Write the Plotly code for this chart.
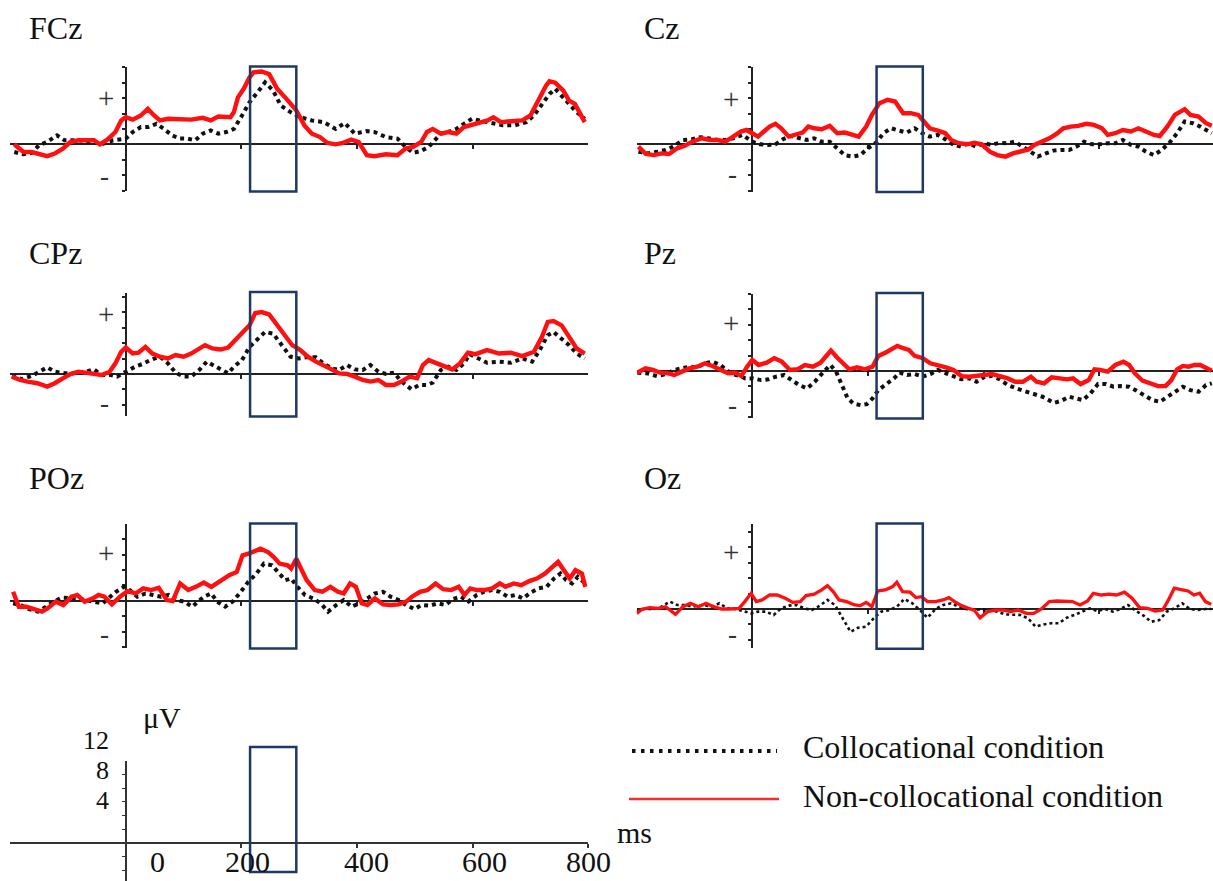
import plotly.graph_objects as go

# ------------------------------------------------------------------
# DATA  (time in ms, amplitude in axis-tick units)
# ------------------------------------------------------------------
panel_names = ["FCz", "Cz", "CPz", "Pz", "POz", "Oz"]
legend_labels = ["Collocational condition", "Non-collocational condition"]
scale_tick_labels = ["0", "200", "400", "600", "800"]
scale_value_labels = ["12", "8", "4"]

# FCz
fcz_coll_t = [-193, -177, -163, -150, -136, -119, -106, -82, -55, -42, -22, -8, 0, 12, 26, 39, 53, 66, 80, 93, 106, 120, 133, 147, 160, 174, 187, 201, 214, 228, 241, 255, 268, 285, 302, 322, 342, 363, 379, 396, 417, 430, 450, 470, 484, 497, 511, 524, 534, 545, 558, 572, 585, 599, 612, 632, 652, 673, 693, 706, 720, 733, 743, 754, 767, 780, 794]
fcz_coll_v = [-0.5, -0.65, -0.56, -0.06, 0.15, 0.58, 0.26, 0.26, 0.15, 0.0, 0.26, 0.3, 0.37, 0.8, 1.12, 1.12, 1.33, 1.0, 0.58, 0.37, 0.37, 0.26, 0.69, 0.9, 0.69, 0.8, 1.0, 1.87, 2.73, 3.38, 4.02, 3.48, 2.52, 2.09, 1.76, 1.55, 1.44, 1.0, 1.38, 0.69, 0.86, 0.8, 0.47, 0.37, -0.17, -0.56, -0.43, -0.17, 0.26, 0.69, 0.8, 1.0, 1.33, 1.66, 1.55, 1.38, 1.23, 1.23, 1.44, 1.87, 2.62, 3.27, 3.6, 3.16, 2.62, 2.09, 1.66]
fcz_non_t = [-193, -177, -163, -150, -136, -123, -109, -96, -82, -69, -55, -45, -32, -18, -8, 0, 12, 26, 38, 49, 59, 73, 93, 113, 133, 147, 160, 181, 187, 194, 204, 214, 221, 235, 248, 262, 278, 295, 309, 322, 336, 349, 363, 376, 390, 403, 417, 430, 450, 470, 484, 497, 511, 521, 531, 545, 558, 572, 585, 599, 612, 626, 636, 649, 666, 686, 700, 713, 727, 733, 743, 757, 767, 777, 787, 794]
fcz_non_v = [0.0, -0.5, -0.5, -0.65, -0.77, -0.6, -0.28, 0.15, 0.26, 0.26, 0.26, 0.0, 0.3, 0.8, 1.55, 1.76, 1.6, 1.87, 2.3, 1.87, 1.55, 1.66, 1.66, 1.6, 1.72, 1.55, 1.8, 1.76, 2.09, 3.05, 3.6, 4.34, 4.67, 4.73, 4.56, 3.6, 2.95, 2.2, 1.23, 0.69, 0.47, 0.09, 0.0, 0.09, 0.3, 0.15, -0.71, -0.77, -0.65, -0.71, -0.28, -0.17, 0.15, 0.8, 1.0, 0.69, 0.8, 0.69, 1.12, 1.29, 1.44, 1.55, 1.76, 1.44, 1.5, 1.55, 1.87, 2.84, 3.8, 4.1, 4.0, 3.48, 2.84, 2.62, 1.98, 1.44]

# Cz
cz_coll_t = [-197, -180, -164, -150, -137, -120, -104, -90, -77, -60, -47, -33, -17, 0, 13, 27, 40, 53, 67, 80, 94, 107, 120, 134, 147, 160, 174, 187, 200, 214, 227, 240, 254, 267, 281, 294, 307, 321, 334, 347, 361, 374, 387, 401, 414, 428, 441, 454, 468, 481, 494, 508, 521, 534, 548, 561, 574, 588, 601, 615, 628, 641, 655, 668, 681, 695, 708, 721, 735, 748, 762, 775, 795]
cz_coll_v = [-0.48, -0.59, -0.48, -0.37, -0.15, 0.28, 0.33, 0.46, 0.39, 0.28, 0.28, 0.39, 0.61, 0.17, 0.0, -0.04, 0.0, 0.33, 0.54, 0.39, 0.28, 0.39, 0.17, 0.17, -0.26, -0.7, -0.8, -0.7, -0.26, 0.1, 0.72, 1.04, 0.89, 0.76, 1.04, 0.72, 0.5, 0.61, 0.33, 0.0, -0.15, 0.07, -0.15, 0.07, -0.04, 0.1, 0.07, 0.17, -0.15, -0.48, -0.8, -0.59, -0.41, -0.37, -0.37, -0.15, 0.17, 0.0, 0.0, 0.07, 0.07, 0.28, -0.04, -0.15, -0.48, -0.7, -0.37, 0.07, 0.72, 1.48, 1.37, 1.15, 0.72]
cz_non_t = [-197, -184, -170, -157, -144, -130, -117, -104, -87, -73, -60, -47, -33, -20, -10, 0, 10, 20, 30, 40, 50, 63, 73, 87, 97, 107, 120, 134, 147, 160, 174, 184, 197, 207, 220, 234, 247, 261, 274, 287, 297, 307, 321, 334, 344, 357, 371, 384, 397, 411, 424, 438, 451, 464, 478, 488, 501, 514, 528, 538, 551, 564, 578, 591, 605, 615, 628, 641, 655, 668, 681, 695, 705, 718, 731, 748, 758, 772, 785, 795]
cz_non_v = [-0.15, -0.63, -0.7, -0.59, -0.63, -0.26, -0.1, 0.17, 0.39, 0.28, 0.28, 0.17, 0.5, 0.83, 0.93, 0.72, 0.5, 0.83, 1.15, 1.33, 1.04, 0.5, 0.61, 0.76, 1.15, 1.04, 0.98, 1.2, 0.72, 0.76, 0.61, 0.5, 1.15, 1.91, 2.67, 2.89, 2.78, 2.02, 2.02, 1.91, 1.48, 1.04, 0.89, 0.72, 0.28, 0.07, 0.0, 0.1, 0.0, -0.48, -0.7, -0.8, -0.59, -0.48, -0.33, -0.04, 0.17, 0.39, 0.72, 1.04, 1.15, 1.2, 1.33, 1.26, 1.04, 0.61, 0.72, 0.93, 0.83, 1.04, 0.83, 0.61, 0.54, 1.15, 1.91, 2.28, 1.91, 1.8, 1.37, 1.2]

# CPz
cpz_coll_t = [-197, -180, -163, -150, -136, -123, -109, -96, -82, -69, -55, -42, -28, -15, 0, 16, 29, 42, 59, 73, 86, 100, 113, 127, 140, 154, 167, 177, 187, 201, 214, 228, 241, 255, 268, 285, 299, 312, 329, 342, 356, 369, 383, 396, 410, 423, 437, 450, 464, 477, 494, 508, 521, 531, 545, 558, 572, 585, 595, 612, 625, 646, 666, 686, 703, 716, 730, 740, 754, 767, 780, 794]
cpz_coll_v = [-0.13, -0.34, -0.13, 0.15, 0.43, 0.15, 0.09, 0.0, 0.09, 0.15, 0.3, -0.06, -0.06, -0.17, 0.15, 0.47, 0.65, 0.9, 1.12, 0.69, 0.09, -0.17, -0.17, 0.26, 0.8, 0.52, 0.26, 0.04, 0.47, 0.9, 1.76, 2.3, 2.73, 2.62, 1.98, 1.12, 1.01, 1.08, 1.08, 0.69, 0.37, 0.26, 0.58, 0.3, 0.26, 0.58, 0.15, 0.0, 0.09, -0.49, -0.99, -0.71, -0.71, -0.56, 0.26, 0.47, 0.26, 0.69, 1.29, 1.01, 0.73, 0.8, 0.73, 1.01, 0.8, 1.55, 2.52, 2.73, 2.3, 1.87, 1.33, 1.01]
cpz_non_t = [-197, -183, -170, -153, -136, -123, -109, -96, -82, -69, -55, -42, -28, -18, -8, 0, 12, 22, 34, 46, 59, 73, 86, 100, 113, 127, 137, 150, 164, 177, 187, 201, 214, 224, 235, 248, 262, 275, 288, 302, 315, 329, 342, 356, 369, 383, 396, 410, 423, 437, 450, 464, 477, 491, 504, 514, 524, 538, 551, 565, 578, 592, 605, 625, 646, 666, 686, 706, 720, 730, 740, 754, 767, 780, 794]
cpz_non_v = [-0.17, -0.39, -0.49, -0.6, -0.82, -0.6, -0.28, 0.0, 0.15, 0.09, 0.0, -0.06, 0.15, 0.69, 1.44, 1.72, 1.33, 1.38, 1.76, 1.33, 1.12, 1.01, 1.23, 1.12, 1.33, 1.66, 1.87, 1.66, 1.59, 1.72, 2.09, 2.62, 3.16, 3.96, 4.02, 3.87, 3.16, 2.52, 1.87, 1.55, 1.12, 0.8, 0.58, 0.3, 0.04, 0.0, -0.17, -0.39, -0.49, -0.39, -0.71, -0.71, -0.49, -0.17, -0.28, 0.58, 0.9, 0.69, 0.47, 0.3, 0.69, 1.38, 1.29, 1.55, 1.33, 1.38, 1.16, 1.44, 2.41, 3.38, 3.44, 3.16, 2.41, 1.66, 1.33]

# Pz
pz_coll_t = [-199, -182, -165, -149, -135, -122, -109, -95, -82, -69, -55, -45, -35, -22, -12, 1, 15, 28, 41, 55, 68, 81, 95, 108, 121, 135, 145, 155, 165, 175, 188, 198, 208, 218, 231, 245, 255, 268, 281, 295, 308, 321, 335, 348, 362, 375, 388, 402, 415, 428, 442, 462, 482, 502, 522, 535, 548, 562, 572, 585, 598, 612, 625, 638, 652, 665, 678, 692, 705, 718, 732, 745, 758, 772, 785, 795]
pz_coll_v = [-0.11, -0.15, -0.33, -0.2, 0.07, 0.17, 0.28, 0.24, 0.5, 0.61, 0.39, 0.07, -0.2, -0.33, -0.48, -0.48, -0.59, -0.54, -0.37, -0.26, -0.59, -0.91, -1.13, -0.7, -0.15, 0.39, -0.04, -0.91, -1.78, -2.11, -2.22, -2.15, -1.78, -1.24, -0.91, -0.48, -0.11, -0.26, -0.2, -0.37, -0.2, 0.07, -0.15, -0.37, -0.54, -0.48, -0.7, -0.37, -0.33, -0.54, -0.91, -1.2, -1.46, -1.67, -2.07, -1.93, -1.67, -1.78, -1.89, -1.46, -0.85, -0.85, -1.02, -0.98, -1.02, -1.28, -1.57, -1.89, -2.0, -1.67, -1.35, -1.02, -1.24, -1.35, -0.91, -0.8]
pz_non_t = [-199, -185, -172, -159, -145, -135, -122, -109, -95, -82, -69, -55, -42, -29, -19, -9, 0, 11, 25, 38, 51, 65, 78, 91, 105, 118, 128, 136, 148, 158, 168, 181, 195, 208, 218, 231, 245, 251, 261, 271, 281, 295, 308, 321, 335, 348, 362, 375, 388, 402, 415, 428, 442, 455, 468, 482, 492, 505, 518, 532, 545, 555, 568, 582, 592, 602, 615, 628, 642, 652, 662, 675, 688, 702, 715, 725, 735, 745, 755, 765, 775, 785, 795]
pz_non_v = [-0.11, 0.17, 0.07, -0.11, -0.15, -0.26, -0.04, 0.17, 0.28, 0.5, 0.33, 0.07, -0.15, -0.11, -0.33, 0.28, 0.72, 0.39, 0.54, 0.83, 0.61, 0.07, 0.11, 0.39, 0.28, 0.54, 1.04, 1.33, 0.83, 0.5, 0.11, 0.24, 0.11, 0.28, 0.98, 1.2, 1.48, 1.63, 1.48, 1.37, 0.98, 0.83, 0.5, 0.39, 0.24, 0.07, -0.33, -0.37, -0.33, -0.26, -0.2, -0.33, -0.48, -0.7, -0.7, -0.37, -0.7, -0.8, -0.41, -0.48, -0.54, -0.48, -0.85, -0.59, 0.11, 0.07, -0.04, 0.39, 0.61, 0.39, -0.15, -0.63, -0.8, -0.98, -0.98, -0.59, 0.11, 0.33, 0.28, 0.39, 0.39, 0.17, 0.02]

# POz
poz_coll_t = [-195, -182, -168, -152, -138, -125, -111, -98, -84, -71, -54, -40, -27, -17, -3, 7, 20, 34, 47, 61, 74, 88, 101, 115, 125, 135, 148, 158, 172, 185, 199, 212, 226, 239, 253, 266, 276, 286, 297, 310, 324, 337, 350, 364, 377, 391, 404, 418, 431, 445, 458, 472, 485, 499, 512, 526, 539, 553, 566, 580, 593, 607, 620, 634, 647, 661, 674, 687, 701, 714, 728, 741, 752, 762, 772, 782, 795]
poz_coll_v = [-0.17, -0.28, -0.54, -0.71, -0.39, -0.06, 0.19, 0.15, 0.15, 0.04, -0.06, -0.17, 0.26, 0.58, 0.9, 0.69, 0.26, 0.47, 0.37, 0.26, 0.37, 0.04, -0.06, -0.39, -0.06, 0.26, 0.47, -0.06, -0.39, -0.06, 0.58, 1.23, 1.76, 2.41, 2.3, 1.76, 1.33, 1.44, 0.9, 0.37, 0.15, -0.17, -0.71, -0.28, 0.04, -0.39, -0.17, 0.15, 0.47, 0.58, 0.26, 0.04, -0.28, -0.54, -0.28, -0.32, -0.17, -0.28, 0.11, 0.26, -0.06, 0.37, 0.58, 0.69, 0.58, 0.26, 0.37, 0.15, 0.54, 0.8, 0.9, 1.44, 1.76, 1.33, 1.12, 1.55, 1.12]
poz_non_t = [-195, -185, -172, -158, -145, -135, -121, -108, -94, -84, -71, -57, -47, -37, -24, -10, 3, 17, 30, 44, 57, 71, 81, 94, 108, 121, 135, 148, 165, 179, 192, 202, 212, 222, 233, 246, 256, 266, 280, 286, 295, 303, 313, 327, 340, 354, 367, 377, 388, 398, 408, 418, 431, 445, 458, 472, 485, 495, 509, 522, 536, 549, 563, 576, 586, 596, 607, 620, 634, 647, 657, 671, 684, 698, 711, 725, 738, 748, 758, 768, 778, 789, 795]
poz_non_v = [0.58, -0.39, -0.39, -0.54, -0.71, -0.49, -0.06, -0.28, 0.26, 0.37, -0.06, 0.15, 0.37, 0.26, -0.24, 0.26, 0.62, 0.47, 0.8, 0.69, 0.84, 0.04, -0.02, 1.12, 0.69, 0.9, 1.18, 0.9, 1.33, 1.66, 1.87, 2.95, 3.05, 3.2, 3.38, 3.16, 2.84, 2.41, 2.3, 2.09, 2.73, 2.09, 1.33, 0.69, 0.58, 0.9, 0.58, 0.47, 1.12, 0.9, -0.17, -0.28, 0.15, -0.24, -0.28, -0.24, -0.06, 0.26, 0.58, 0.69, 1.12, 0.75, 0.69, 0.9, 0.37, 0.8, 0.69, 0.69, 0.8, 1.12, 0.9, 1.12, 1.01, 1.27, 1.44, 1.76, 2.19, 2.52, 1.98, 1.44, 1.98, 1.76, 0.9]

# Oz
oz_coll_t = [-200, -187, -170, -157, -143, -130, -117, -103, -87, -70, -57, -43, -30, -13, -2, 10, 23, 37, 50, 63, 77, 90, 103, 117, 130, 143, 157, 170, 183, 197, 210, 223, 237, 250, 263, 277, 290, 303, 317, 330, 344, 357, 370, 384, 397, 410, 424, 437, 450, 464, 477, 490, 504, 517, 530, 544, 557, 570, 584, 597, 610, 624, 637, 650, 664, 677, 690, 704, 717, 730, 744, 757, 770, 784, 794]
oz_coll_v = [-0.17, 0.0, 0.0, 0.15, 0.48, 0.26, 0.26, 0.15, 0.26, 0.15, 0.37, 0.04, 0.0, -0.17, -0.28, -0.17, -0.17, -0.39, 0.04, 0.22, 0.26, 0.04, -0.07, 0.22, 0.59, 0.26, -0.61, -1.48, -1.22, -1.15, -0.61, -0.17, -0.07, 0.15, 0.65, 0.37, -0.07, -0.57, 0.0, 0.26, 0.37, 0.15, 0.0, -0.07, 0.0, -0.07, -0.17, -0.35, -0.39, -0.39, -0.61, -1.15, -1.0, -0.93, -0.93, -0.57, -0.39, -0.17, 0.04, -0.13, 0.0, -0.17, 0.0, 0.26, -0.13, -0.43, -0.83, -0.72, -0.17, 0.04, 0.37, 0.0, -0.07, 0.0, 0.0]
oz_non_t = [-200, -190, -177, -163, -150, -133, -120, -107, -93, -80, -67, -53, -40, -23, -13, -2, 7, 17, 30, 43, 57, 70, 83, 93, 107, 120, 130, 140, 150, 163, 177, 187, 197, 207, 217, 230, 243, 250, 260, 273, 283, 293, 303, 317, 330, 340, 350, 360, 374, 384, 394, 407, 420, 434, 447, 460, 474, 487, 500, 514, 527, 540, 554, 567, 580, 590, 604, 617, 630, 644, 657, 670, 684, 697, 710, 720, 730, 744, 754, 764, 774, 784, 794]
oz_non_v = [-0.28, 0.0, 0.09, 0.04, 0.15, -0.35, 0.15, 0.37, 0.15, 0.37, 0.15, 0.0, 0.0, 0.04, 0.48, 1.02, 0.48, 0.59, 0.91, 0.91, 0.7, 0.43, 0.48, 0.87, 0.96, 1.24, 1.52, 1.13, 0.59, 0.48, 0.26, 0.22, 0.43, 0.15, 1.17, 1.24, 1.46, 1.74, 1.13, 1.09, 0.74, 0.8, 0.48, 0.48, 0.59, 0.74, 0.48, 0.26, 0.04, -0.07, -0.57, -0.17, -0.07, -0.07, -0.17, -0.07, -0.28, -0.28, 0.0, 0.48, 0.52, 0.48, 0.48, 0.26, 0.52, 1.02, 0.91, 0.96, 0.91, 1.09, 0.7, 0.09, 0.04, -0.13, -0.07, 0.59, 1.35, 1.24, 1.17, 0.91, 1.02, 0.48, 0.3]

window_ms = [215, 295]   # highlighted analysis window

coll_series = [(fcz_coll_t, fcz_coll_v), (cz_coll_t, cz_coll_v), (cpz_coll_t, cpz_coll_v),
               (pz_coll_t, pz_coll_v), (poz_coll_t, poz_coll_v), (oz_coll_t, oz_coll_v)]
non_series = [(fcz_non_t, fcz_non_v), (cz_non_t, cz_non_v), (cpz_non_t, cpz_non_v),
              (pz_non_t, pz_non_v), (poz_non_t, poz_non_v), (oz_non_t, oz_non_v)]

# ------------------------------------------------------------------
# LAYOUT GEOMETRY (pixels in a 1213 x 881 page)
# ------------------------------------------------------------------
W, H = 1213, 881
PX_PER_MS = 0.578
PX_PER_UNIT = 15.4
col_zero_x = [125.8, 752.3]
# per panel: column, axis top px, axis bottom px, zero-line px, "+" px, "-" px, title y px
panel_geom = [
    (0, 67.0, 191.0, 144.3, 97.5, 176.0, 28),
    (1, 67.0, 191.5, 144.3, 99.0, 174.0, 28),
    (0, 292.5, 416.0, 374.0, 314.0, 403.0, 253),
    (1, 293.5, 418.0, 371.0, 323.0, 405.0, 253),
    (0, 524.0, 648.0, 600.7, 552.5, 634.0, 478),
    (1, 524.0, 648.3, 609.0, 552.3, 634.3, 478),
]
title_x = [27, 642]
plus_x = [106, 731]
minus_x = [104, 732]

FONT = "Liberation Serif, Times New Roman, serif"
RED = "#ff1010"
BLACK = "#111111"
NAVY = "#1f3864"


def fx(px):
    return px / W


def fy(py):
    return 1 - py / H


fig = go.Figure()
layout = dict(width=W, height=H, margin=dict(l=0, r=0, t=0, b=0),
              paper_bgcolor="white", plot_bgcolor="white", showlegend=False)
shapes, annotations = [], []


def col_x(col):
    z = col_zero_x[col]
    left = z - 200 * PX_PER_MS
    right = min(z + 800 * PX_PER_MS, W)
    return left, right, (right - z) / PX_PER_MS


for i, name in enumerate(panel_names):
    col, top, bot, zero, plus_py, minus_py, title_py = panel_geom[i]
    k = "" if i == 0 else str(i + 1)
    left, right, rend = col_x(col)
    ymax = (zero - top) / PX_PER_UNIT
    ymin = -(bot - zero) / PX_PER_UNIT
    thin = (name == "Oz")

    ct, cv = coll_series[i]
    nt, nv = non_series[i]
    fig.add_trace(go.Scatter(x=ct, y=cv, mode="lines", xaxis="x" + k, yaxis="y" + k,
                             line=dict(color=BLACK, width=2.6 if thin else 4.0, dash="dot"),
                             name=legend_labels[0], hoverinfo="skip"))
    fig.add_trace(go.Scatter(x=nt, y=nv, mode="lines", xaxis="x" + k, yaxis="y" + k,
                             line=dict(color=RED, width=3.3 if thin else 4.4),
                             name=legend_labels[1], hoverinfo="skip"))

    layout["xaxis" + k] = dict(domain=[fx(left), fx(right)], range=[-200, rend],
                               anchor="free", position=fy(zero), showline=True,
                               linecolor="#222", linewidth=1.6, ticks="outside",
                               tickvals=[200, 400, 600], ticklen=4, tickwidth=1.6,
                               tickcolor="#222", showticklabels=False, showgrid=False,
                               zeroline=False, layer="below traces", fixedrange=True)
    layout["yaxis" + k] = dict(domain=[fy(bot), fy(top)], range=[ymin, ymax],
                               anchor="free", position=fx(col_zero_x[col]), showline=True,
                               linecolor="#222", linewidth=2.4, ticks="outside",
                               tick0=0, dtick=1, ticklen=3, tickwidth=1.5, tickcolor="#222",
                               showticklabels=False, showgrid=False, zeroline=False,
                               layer="below traces", fixedrange=True)

    shapes.append(dict(type="rect", xref="x" + k, yref="paper",
                       x0=window_ms[0], x1=window_ms[1], y0=fy(bot + 0.5), y1=fy(top - 0.5),
                       line=dict(color=NAVY, width=2.5), fillcolor="rgba(0,0,0,0)", layer="above"))

    annotations.append(dict(text=name, x=fx(title_x[col]), y=fy(title_py), xref="paper",
                            yref="paper", xanchor="left", yanchor="middle", showarrow=False,
                            font=dict(family=FONT, size=32, color="#111")))
    annotations.append(dict(text="+", x=fx(plus_x[col]), y=fy(plus_py), xref="paper",
                            yref="paper", xanchor="center", yanchor="middle", showarrow=False,
                            font=dict(family=FONT, size=29, color="#333")))
    annotations.append(dict(text="-", x=fx(minus_x[col]), y=fy(minus_py), xref="paper",
                            yref="paper", xanchor="center", yanchor="middle", showarrow=False,
                            font=dict(family=FONT, size=27, color="#333")))

# ------------------------------------------------------------------
# Calibration (scale) panel
# ------------------------------------------------------------------
S_ZERO, S_TOP, S_BOT, S_UNIT = 843.0, 761.0, 881.0, 13.7
left, right, rend = col_x(0)
fig.add_trace(go.Scatter(x=[], y=[], xaxis="x7", yaxis="y7", hoverinfo="skip", showlegend=False))
layout["xaxis7"] = dict(domain=[fx(left), fx(right)], range=[-200, rend], anchor="free",
                        position=fy(S_ZERO), showline=True, linecolor="#333", linewidth=1.6,
                        ticks="outside", tickvals=[200, 400, 600, 800], ticklen=4, tickwidth=1.5,
                        tickcolor="#333", showticklabels=False, showgrid=False, zeroline=False,
                        fixedrange=True)
layout["yaxis7"] = dict(domain=[0, fy(S_TOP)], range=[-(S_BOT - S_ZERO) / S_UNIT, (S_ZERO - S_TOP) / S_UNIT],
                        anchor="free", position=fx(col_zero_x[0]), showline=True, linecolor="#333",
                        linewidth=1.6, ticks="outside", tick0=0, dtick=1, ticklen=3, tickwidth=1.3,
                        tickcolor="#333", showticklabels=False, showgrid=False, zeroline=False,
                        fixedrange=True)
shapes.append(dict(type="rect", xref="x7", yref="paper", x0=window_ms[0], x1=window_ms[1],
                   y0=fy(872), y1=fy(747), line=dict(color=NAVY, width=2.5),
                   fillcolor="rgba(0,0,0,0)", layer="above"))

scale_label_px = [157, 247, 366, 484, 588]
for lab, px in zip(scale_tick_labels, scale_label_px):
    annotations.append(dict(text=lab, x=fx(px), y=fy(861), xref="paper", yref="paper",
                            xanchor="center", yanchor="middle", showarrow=False,
                            font=dict(family=FONT, size=30, color="#111")))
for lab, py in zip(scale_value_labels, [740, 770, 800]):
    annotations.append(dict(text=lab, x=fx(111), y=fy(py), xref="paper", yref="paper",
                            xanchor="right", yanchor="middle", showarrow=False,
                            font=dict(family=FONT, size=26, color="#111")))
annotations.append(dict(text="μV", x=fx(162), y=fy(717), xref="paper", yref="paper",
                        xanchor="center", yanchor="middle", showarrow=False,
                        font=dict(family=FONT, size=30, color="#111")))
annotations.append(dict(text="ms", x=fx(634), y=fy(832), xref="paper", yref="paper",
                        xanchor="center", yanchor="middle", showarrow=False,
                        font=dict(family=FONT, size=30, color="#111")))

# ------------------------------------------------------------------
# Legend (drawn manually to match the long sample lines)
# ------------------------------------------------------------------
shapes.append(dict(type="line", xref="paper", yref="paper", x0=fx(632), x1=fx(777),
                   y0=fy(751), y1=fy(751), line=dict(color=BLACK, width=3.8, dash="3.5px,5.5px")))
shapes.append(dict(type="line", xref="paper", yref="paper", x0=fx(629), x1=fx(779),
                   y0=fy(799), y1=fy(799), line=dict(color="#ff2a2a", width=2.5)))
annotations.append(dict(text=legend_labels[0], x=fx(801), y=fy(747), xref="paper", yref="paper",
                        xanchor="left", yanchor="middle", showarrow=False,
                        font=dict(family=FONT, size=32, color="#111")))
annotations.append(dict(text=legend_labels[1], x=fx(801), y=fy(796), xref="paper", yref="paper",
                        xanchor="left", yanchor="middle", showarrow=False,
                        font=dict(family=FONT, size=32, color="#111")))

layout["shapes"] = shapes
layout["annotations"] = annotations
fig.update_layout(**layout)
fig.write_html("out.html")
